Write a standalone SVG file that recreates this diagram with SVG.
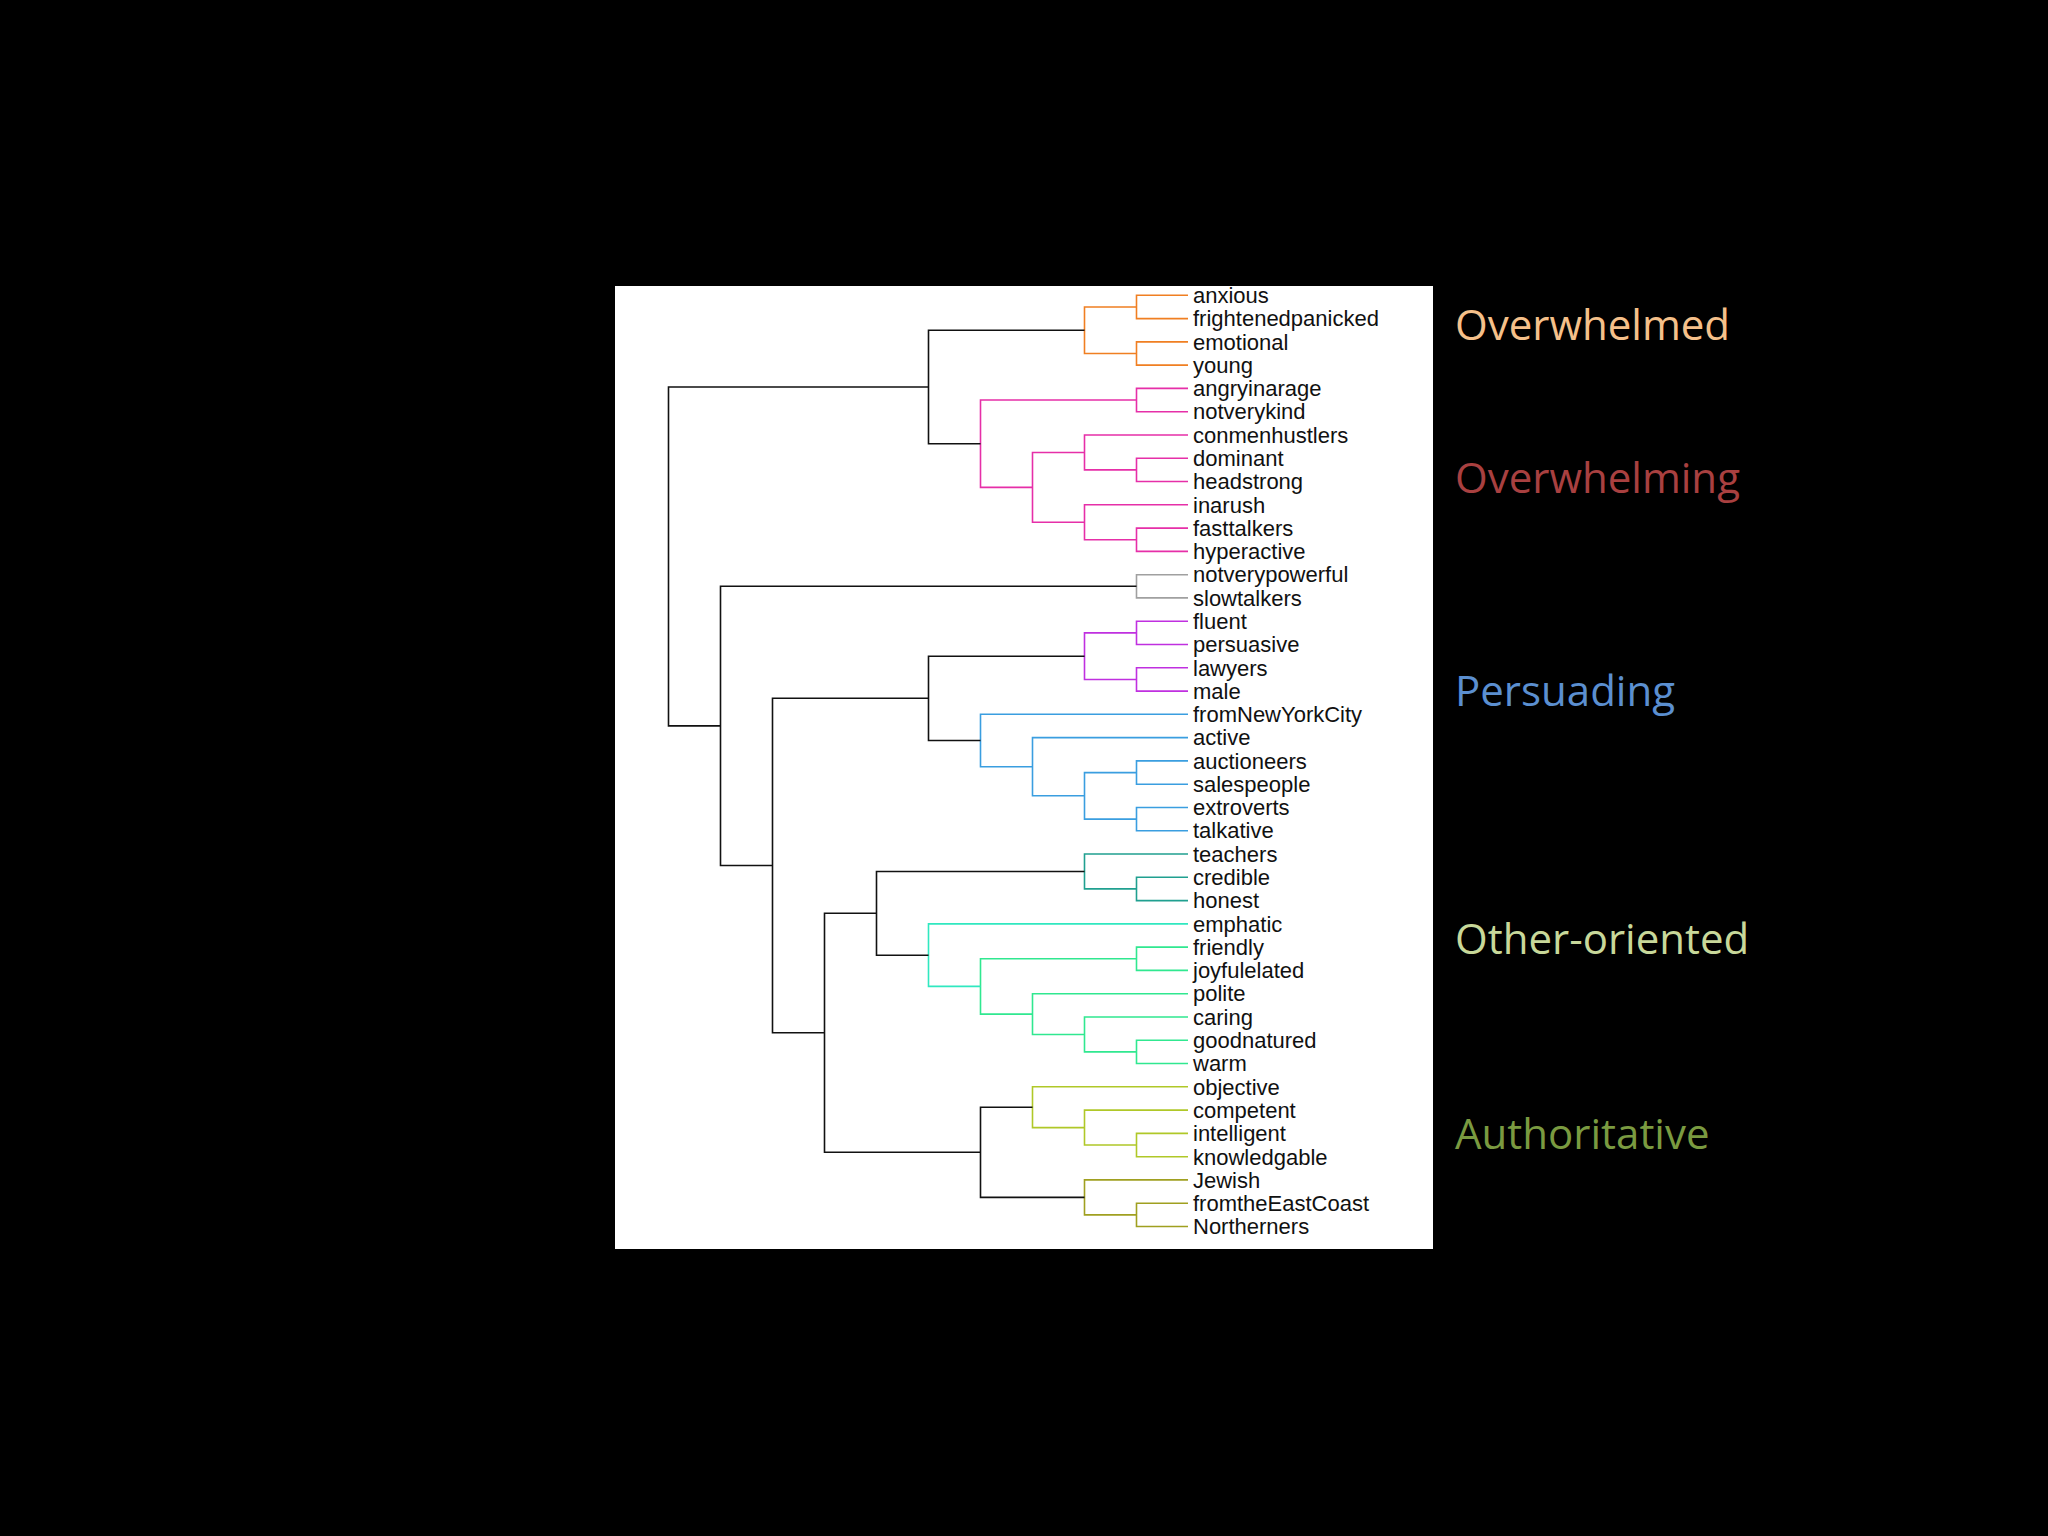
<svg xmlns="http://www.w3.org/2000/svg" width="2048" height="1536" viewBox="0 0 2048 1536">
<style>
.l{font-family:"Liberation Sans",Arial,sans-serif;font-size:22px;fill:#111}
.g{font-family:"Open Sans","Liberation Sans",sans-serif;font-size:42px}
path{fill:none;stroke-width:1.6}
.k{stroke:#111}.or{stroke:#f07f22}.pk{stroke:#e62fa8}.gy{stroke:#a0a0a0}.pu{stroke:#c030e0}.bl{stroke:#3a9ee0}.te{stroke:#20a090}.cy{stroke:#30e8c0}.gr{stroke:#30e890}.yg{stroke:#b0c828}.ol{stroke:#a0a020}
</style>
<rect width="2048" height="1536" fill="#000"/>
<rect x="615" y="286" width="818" height="963" fill="#fff"/>
<g id="connectors">
<path class="or" d="M1188 295.3H1136.5V318.6H1188M1188 341.9H1136.5V365.1H1188M1136.5 307H1084.5V353.5H1136.5"/>
<path class="pk" d="M1188 388.4H1136.5V411.7H1188M1188 458.3H1136.5V481.5H1188M1188 435H1084.5V469.9H1136.5M1188 528.1H1136.5V551.4H1188M1188 504.8H1084.5V539.8H1136.5M1084.5 452.5H1032.5V522.3H1084.5M1136.5 400H980.5V487.4H1032.5"/>
<path class="k" d="M1084.5 330.2H928.5V443.7H980.5"/>
<path class="gy" d="M1188 574.7H1136.5V597.9H1188"/>
<path class="pu" d="M1188 621.2H1136.5V644.5H1188M1188 667.8H1136.5V691.1H1188M1136.5 632.9H1084.5V679.5H1136.5"/>
<path class="bl" d="M1188 760.9H1136.5V784.2H1188M1188 807.5H1136.5V830.7H1188M1136.5 772.6H1084.5V819.1H1136.5M1188 737.6H1032.5V795.8H1084.5M1188 714.3H980.5V766.7H1032.5"/>
<path class="k" d="M1084.5 656.2H928.5V740.5H980.5"/>
<path class="te" d="M1188 877.3H1136.5V900.6H1188M1188 854H1084.5V888.9H1136.5"/>
<path class="gr" d="M1188 947.1H1136.5V970.4H1188M1188 1040.3H1136.5V1063.5H1188M1188 1017H1084.5V1051.9H1136.5M1188 993.7H1032.5V1034.5H1084.5M1136.5 958.8H980.5V1014.1H1032.5"/>
<path class="cy" d="M1188 923.9H928.5V986.4H980.5"/>
<path class="k" d="M1084.5 871.5H876.5V955.2H928.5"/>
<path class="yg" d="M1188 1133.4H1136.5V1156.7H1188M1188 1110.1H1084.5V1145H1136.5M1188 1086.8H1032.5V1127.6H1084.5"/>
<path class="ol" d="M1188 1203.2H1136.5V1226.5H1188M1188 1179.9H1084.5V1214.9H1136.5"/>
<path class="k" d="M1032.5 1107.2H980.5V1197.4H1084.5M876.5 913.3H824.5V1152.3H980.5M928.5 698.3H772.5V1032.8H824.5M1136.5 586.3H720.5V865.5H772.5M928.5 387H668.5V725.9H720.5"/>
</g>
<g id="labels" class="l">
<text x="1193" y="303">anxious</text><text x="1193" y="326">frightenedpanicked</text><text x="1193" y="350">emotional</text><text x="1193" y="373">young</text><text x="1193" y="396">angryinarage</text><text x="1193" y="419">notverykind</text><text x="1193" y="443">conmenhustlers</text><text x="1193" y="466">dominant</text><text x="1193" y="489">headstrong</text><text x="1193" y="513">inarush</text><text x="1193" y="536">fasttalkers</text><text x="1193" y="559">hyperactive</text><text x="1193" y="582">notverypowerful</text><text x="1193" y="606">slowtalkers</text><text x="1193" y="629">fluent</text><text x="1193" y="652">persuasive</text><text x="1193" y="676">lawyers</text><text x="1193" y="699">male</text><text x="1193" y="722">fromNewYorkCity</text><text x="1193" y="745">active</text><text x="1193" y="769">auctioneers</text><text x="1193" y="792">salespeople</text><text x="1193" y="815">extroverts</text><text x="1193" y="838">talkative</text><text x="1193" y="862">teachers</text><text x="1193" y="885">credible</text><text x="1193" y="908">honest</text><text x="1193" y="932">emphatic</text><text x="1193" y="955">friendly</text><text x="1193" y="978">joyfulelated</text><text x="1193" y="1001">polite</text><text x="1193" y="1025">caring</text><text x="1193" y="1048">goodnatured</text><text x="1193" y="1071">warm</text><text x="1193" y="1095">objective</text><text x="1193" y="1118">competent</text><text x="1193" y="1141">intelligent</text><text x="1193" y="1165">knowledgable</text><text x="1193" y="1188">Jewish</text><text x="1193" y="1211">fromtheEastCoast</text><text x="1193" y="1234">Northerners</text>
</g>
<g id="groups" class="g">
<text x="1455" y="340" fill="#f5c08a">Overwhelmed</text>
<text x="1455" y="493" fill="#a94040">Overwhelming</text>
<text x="1455" y="706" fill="#5b8fd0">Persuading</text>
<text x="1455" y="954" fill="#c8d89a">Other-oriented</text>
<text x="1455" y="1149" fill="#7a9a40">Authoritative</text>
</g>
</svg>
